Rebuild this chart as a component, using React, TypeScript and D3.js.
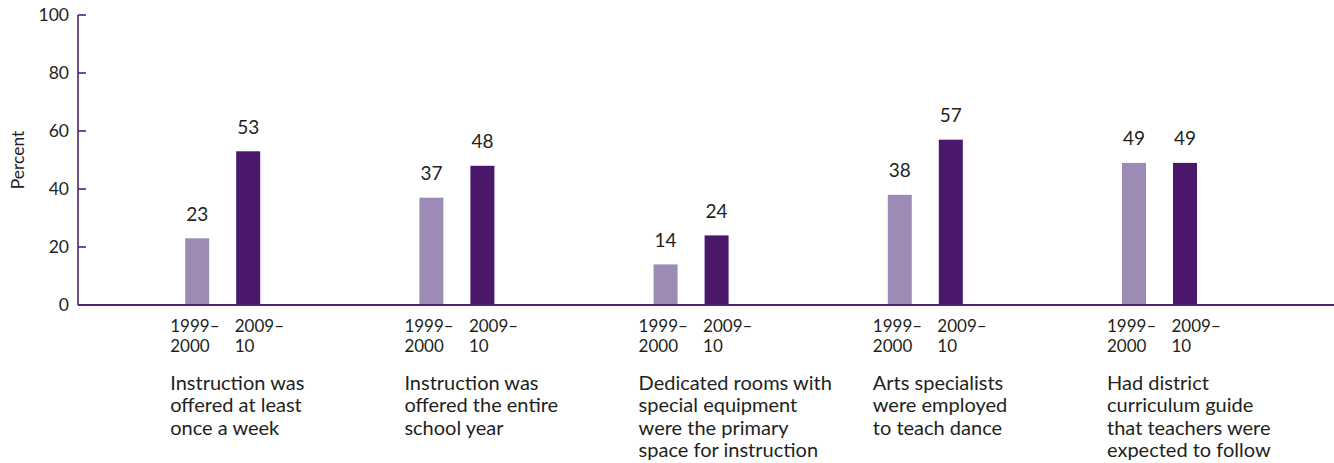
import React from "react";
import * as d3 from "d3";

const categories = [
  "Instruction was offered at least once a week",
  "Instruction was offered the entire school year",
  "Dedicated rooms with special equipment were the primary space for instruction",
  "Arts specialists were employed to teach dance",
  "Had district curriculum guide that teachers were expected to follow",
];
const categoryLines = [
  ["Instruction was", "offered at least", "once a week"],
  ["Instruction was", "offered the entire", "school year"],
  ["Dedicated rooms with", "special equipment", "were the primary", "space for instruction"],
  ["Arts specialists", "were employed", "to teach dance"],
  ["Had district", "curriculum guide", "that teachers were", "expected to follow"],
];
const seriesNames = ["1999–2000", "2009–10"];
const seriesLabelLines = [["1999–", "2000"], ["2009–", "10"]];
const values1999 = [23, 37, 14, 38, 49];
const values2009 = [53, 48, 24, 57, 49];
const yTicks = [0, 20, 40, 60, 80, 100];

const W = 1334;
const H = 463;
const FONT = "Lato, 'Open Sans', sans-serif";
const TEXT = "#231f20";
const AXIS = "#4b2470";
const COLORS = ["#9e8bb5", "#4a176b"];

export default function App() {
  const y = d3.scaleLinear().domain([0, 100]).range([305, 15]);
  const x = d3.scaleBand<string>().domain(categories).range([105.6, 1276.6]).padding(0);
  const inner = d3.scaleBand<string>().domain(seriesNames).range([-37.5, 37.5]).paddingInner(27 / 51).paddingOuter(0);
  const series = [values1999, values2009];
  const axisX = 78;

  return (
    <svg width={W} height={H} style={{ position: "absolute", left: 0, top: 0, background: "#fff" }} fontFamily={FONT}>
      {/* y axis */}
      <line x1={axisX} x2={axisX} y1={y(100)} y2={y(0)} stroke={AXIS} strokeWidth={1.6} />
      {yTicks.map((t) => (
        <g key={t}>
          <line x1={axisX} x2={axisX + 8} y1={y(t)} y2={y(t)} stroke={AXIS} strokeWidth={1.6} />
          <text x={69} y={y(t)} dy="0.35em" textAnchor="end" fontSize={17.5} fill={TEXT}>{t}</text>
        </g>
      ))}
      <text transform={`translate(24,160) rotate(-90)`} textAnchor="middle" fontSize={17.5} fill={TEXT}>Percent</text>

      {/* bars */}
      {categories.map((c, i) => {
        const cx = (x(c) as number) + x.bandwidth() / 2;
        return (
          <g key={c}>
            {seriesNames.map((s, j) => {
              const v = series[j][i];
              const bx = cx + (inner(s) as number);
              return (
                <g key={s}>
                  <rect x={bx} y={y(v)} width={inner.bandwidth()} height={y(0) - y(v)} fill={COLORS[j]} />
                  <text x={bx + inner.bandwidth() / 2} y={y(v) - 17.5} textAnchor="middle" fontSize={19} fill={TEXT}>{v}</text>
                  {seriesLabelLines[j].map((l, k) => (
                    <text key={k} x={bx - (j === 0 ? 15 : 1.5)} y={331.5 + k * 20} fontSize={17} fill={TEXT}>{l}</text>
                  ))}
                </g>
              );
            })}
            {categoryLines[i].map((l, k) => (
              <text key={k} x={cx - 52.5} y={390 + k * 22.3} fontSize={20} fill={TEXT}>{l}</text>
            ))}
          </g>
        );
      })}

      {/* x axis */}
      <line x1={axisX} x2={W} y1={y(0)} y2={y(0)} stroke={AXIS} strokeWidth={1.8} />
    </svg>
  );
}
